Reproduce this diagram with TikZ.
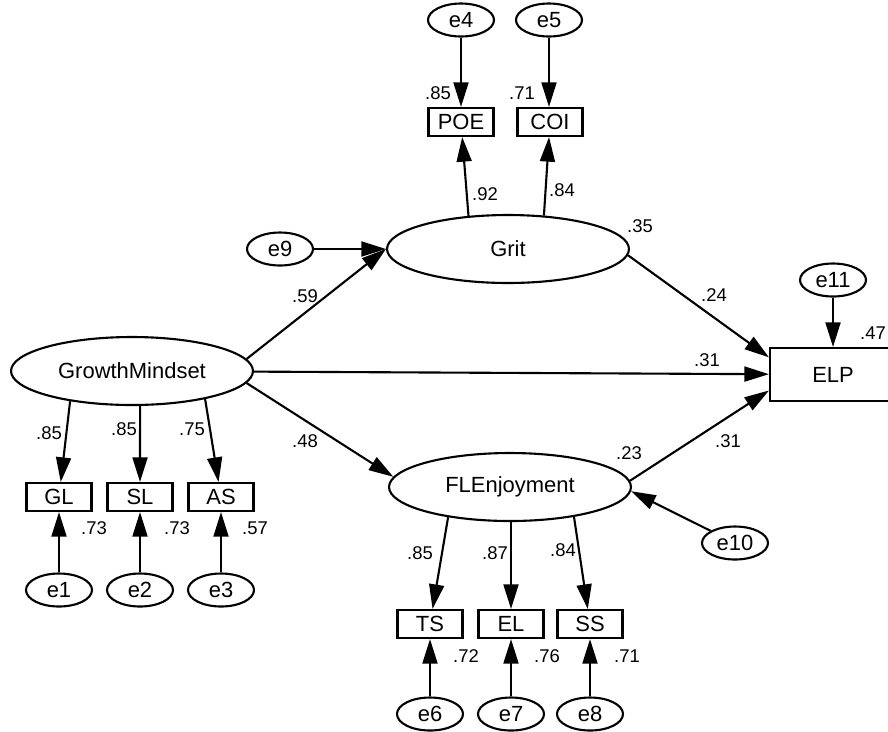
\documentclass[tikz,border=0pt]{standalone}
\usepackage{fontspec}
\setmainfont{Liberation Sans}
\usetikzlibrary{arrows.meta,shapes.geometric}

\begin{document}
\begin{tikzpicture}[x=0.02cm, y=-0.02cm, line width=1.2pt,
  >={Triangle[length=14pt,width=8.5pt]},
  every node/.style={font=\fontsize{12.5}{14}\selectfont},
  latent/.style={draw, ellipse, minimum width=4.84cm, minimum height=1.36cm, inner sep=0pt},
  obs/.style={draw, rectangle, minimum width=1.3cm, minimum height=0.56cm, inner sep=0pt},
  err/.style={draw, ellipse, minimum width=1.32cm, minimum height=0.66cm, inner sep=0pt},
  coef/.style={font=\fontsize{10.5}{12}\selectfont, inner sep=0pt}]
  \useasboundingbox (0,0) rectangle (888,731);

  % Latent variables and outcome
  \node[latent] (GM) at (132,371) {GrowthMindset};
  \node[latent] (Grit) at (508,249) {Grit};
  \node[latent] (FLE) at (510,487) {FLEnjoyment};
  \node[draw, minimum width=2.52cm, minimum height=1.06cm] (ELP) at (833,374.5) {ELP};

  % Indicators
  \node[obs] (POE) at (461,122) {POE};
  \node[obs] (COI) at (550,122) {COI};
  \node[obs] (GL) at (59,497) {GL};
  \node[obs] (SL) at (140,497) {SL};
  \node[obs] (AS) at (221,497) {AS};
  \node[obs] (TS) at (430,624) {TS};
  \node[obs] (EL) at (511,624) {EL};
  \node[obs] (SS) at (590,624) {SS};

  % Error terms
  \node[err] (e1) at (59,590) {e1};
  \node[err] (e2) at (140,590) {e2};
  \node[err] (e3) at (221,590) {e3};
  \node[err] (e4) at (461,20) {e4};
  \node[err] (e5) at (549,20) {e5};
  \node[err] (e6) at (430,714) {e6};
  \node[err] (e7) at (511,714) {e7};
  \node[err] (e8) at (590,714) {e8};
  \node[err] (e9) at (280,249) {e9};
  \node[err] (e10) at (735,543) {e10};
  \node[err] (e11) at (833,280) {e11};

  % Structural paths
  \draw[->] (GM.6) -- (Grit.west);
  \draw[->] (GM) -- (ELP);
  \draw[->] (GM.354) -- (FLE.175);
  \draw[->] (Grit.357) -- (ELP.165);
  \draw[->] (FLE.3) -- (ELP.194);

  % Loadings
  \draw[->] (Grit.140) -- (POE);
  \draw[->] (Grit.43) -- (COI);
  \draw[->] (GM.206) -- (GL);
  \draw[->] (GM.283) -- (SL);
  \draw[->] (GM.339) -- (AS);
  \draw[->] (FLE.206) -- (TS);
  \draw[->] (FLE.south -| EL) -- (EL);
  \draw[->] (FLE.335) -- (SS);

  % Errors
  \foreach \e/\t in {e1/GL, e2/SL, e3/AS, e4/POE, e6/TS, e7/EL, e8/SS, e9/Grit, e11/ELP}
    \draw[->] (\e) -- (\t);
  \draw[->] (e5) -- (e5 |- COI.north);
  \draw[->] (e10) -- (FLE.358);

  % Estimates
  \foreach \v/\x/\y [count=\i] in {.85/438/93, .71/522/93, .92/485/194, .84/562/190,
      .35/640/226, .24/714/295, .31/707/360, .47/873/333, .59/305/296, .48/305/441,
      .23/629/453, .31/728/441, .85/49/433, .85/124/429, .75/192/429,
      .73/94/528, .73/177/528, .57/255/528, .85/420/553, .87/495/553, .84/563/550,
      .72/466/656, .76/547/656, .71/627/656}
    \node[coef] (w\i) at (\x,\y) {\v};
\end{tikzpicture}
\end{document}
